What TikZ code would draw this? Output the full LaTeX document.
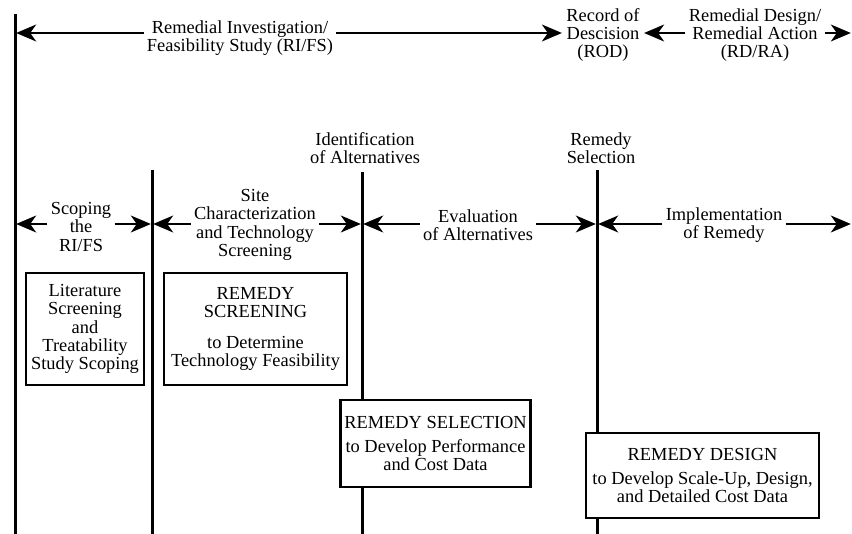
\documentclass[tikz,border=0pt]{standalone}
\usepackage{fontspec}
\setmainfont{Liberation Serif}
\usetikzlibrary{arrows.meta}
\begin{document}
\begin{tikzpicture}[x=.5pt,y=-.5pt,font=\fontsize{9.2}{9.2}\selectfont,
  phase/.style={align=center,inner sep=1.5pt},
  taskbox/.style={draw,line width=1.3pt,fill=white,align=center,inner sep=2pt},
  span/.style={line width=.8pt,shorten >=.6pt,-{Stealth[length=10pt,width=8.5pt,inset=3pt]}},
  divider/.style={line width=1.5pt}]
\useasboundingbox (0,0) rectangle (852,534);
\foreach \n/\x/\t in {a/15/14,b/152/170,c/362/172,d/597/170}{\coordinate (top\n) at (\x,\t);\coordinate (bot\n) at (\x,534);\draw[divider] (top\n)--(bot\n);\coordinate (mid\n) at (\x,224);}
\coordinate (topl) at (15,33);\coordinate (topr) at (852,33);\coordinate (midr) at (852,224);
\node[phase] (rifs) at (240,38){Remedial Investigation/\\Feasibility Study (RI/FS)};
\node[phase] (rod) at (603,35){Record of\\Descision\\(ROD)};\node[phase] (rdra) at (755,35){Remedial Design/\\Remedial Action\\(RD/RA)};
\draw[span] (rifs.west|-topl)--(topl);\draw[span] (rifs.east|-topl)--(rod.west|-topl);\draw[span] (rdra.west|-topl)--(rod.east|-topl);\draw[span] (rdra.east|-topl)--(topr);
\node[phase] (altid) at (365,148){Identification\\of Alternatives};\node[phase] (remsel) at (601,148){Remedy\\Selection};
\node[phase] (scope) at (81,227){Scoping\\the\\RI/FS};\node[phase] (site) at (255,225){Site\\Characterization\\and Technology\\Screening};
\node[phase] (evalalt) at (478,225){Evaluation\\of Alternatives};\node[phase] (impl) at (724,225){Implementation\\of Remedy};
\draw[span] (scope.west|-mida)--(mida);\draw[span] (scope.east|-mida)--(midb);\draw[span] (site.west|-mida)--(midb);\draw[span] (site.east|-mida)--(midc);
\draw[span] (evalalt.west|-mida)--(midc);\draw[span] (evalalt.east|-mida)--(midd);\draw[span] (impl.west|-mida)--(midd);\draw[span] (impl.east|-mida)--(midr);
\node[taskbox,minimum width=59pt,minimum height=56pt] (litbox) at (85,329){Literature\\Screening\\and\\Treatability\\Study Scoping};
\node[taskbox,minimum width=91.5pt,minimum height=56pt] (screenbox) at (255.5,329){REMEDY\\SCREENING\\[6pt]to Determine\\Technology Feasibility};
\node[taskbox,minimum width=94.5pt,minimum height=43.5pt] (selbox) at (435.5,443.5){REMEDY SELECTION\\[3pt]to Develop Performance\\and Cost Data};
\node[taskbox,minimum width=116.5pt,minimum height=42.5pt] (desbox) at (702.5,475.5){REMEDY DESIGN\\[3pt]to Develop Scale-Up, Design,\\and Detailed Cost Data};
\end{tikzpicture}
\end{document}
